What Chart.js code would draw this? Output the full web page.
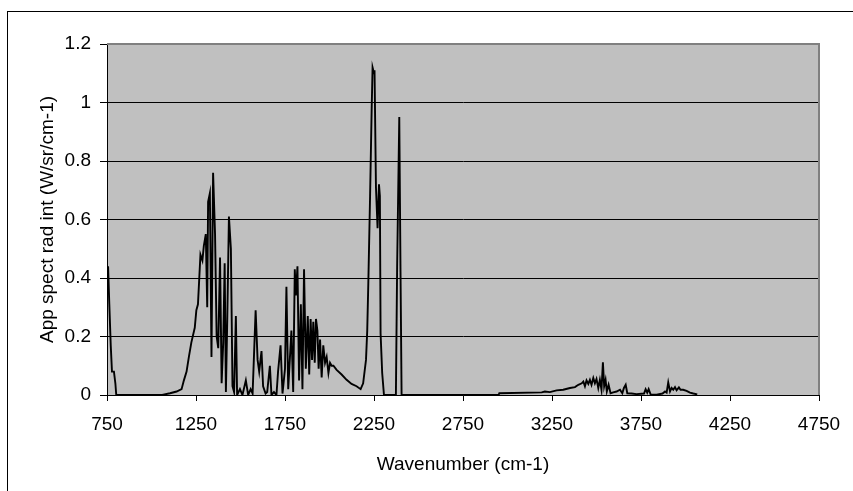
<!DOCTYPE html>
<html>
<head>
<meta charset="utf-8">
<script src="https://cdn.jsdelivr.net/npm/chart.js@4.4.0/dist/chart.umd.min.js"></script>
<style>
  body { margin: 0; background: #fff; overflow: hidden; }
  #marco { position: absolute; left: 7px; top: 11px; width: 900px; height: 600px; border: 1px solid #000; }
  #contenedor { position: absolute; left: 0; top: 0; width: 853px; height: 491px; }
</style>
</head>
<body>
<div id="marco"></div>
<div id="contenedor"><canvas id="myChart" width="853" height="491"></canvas></div>
<script>
// espectro: numero de onda (cm-1) y radiancia aparente (W/sr/cm-1)
var numerosDeOnda = [
  750, 756, 763, 771, 778, 789, 797, 802, 1060, 1104, 1141, 1169, 1182, 1197, 1210, 1224,
  1243, 1252, 1261, 1275, 1286, 1294, 1305, 1313, 1318, 1328, 1337, 1346, 1357, 1366, 1375,
  1385, 1394, 1403, 1411, 1418, 1426, 1435, 1446, 1455, 1464, 1474, 1481, 1497, 1511, 1530,
  1543, 1557, 1568, 1585, 1596, 1605, 1618, 1627, 1641, 1650, 1665, 1674, 1688, 1702, 1711,
  1725, 1736, 1750, 1758, 1768, 1777, 1786, 1796, 1805, 1811, 1820, 1829, 1839, 1848, 1857,
  1867, 1878, 1886, 1894, 1902, 1909, 1917, 1924, 1932, 1939, 1947, 1956, 1965, 1975, 1984,
  1994, 2003, 2012, 2022, 2040, 2068, 2096, 2124, 2152, 2175, 2189, 2205, 2212, 2218, 2228,
  2237, 2242, 2250, 2253, 2261, 2270, 2278, 2283, 2287, 2296, 2306, 2373, 2380, 2392, 2399,
  2405, 2950, 2954, 3192, 3210, 3238, 3276, 3313, 3351, 3379, 3398, 3417, 3426, 3435, 3444,
  3454, 3463, 3472, 3482, 3491, 3500, 3510, 3519, 3528, 3536, 3543, 3551, 3558, 3568, 3579,
  3594, 3613, 3632, 3645, 3654, 3664, 3673, 3697, 3725, 3767, 3776, 3785, 3793, 3804, 3838,
  3871, 3885, 3894, 3903, 3913, 3922, 3931, 3941, 3950, 3963, 3972, 3987, 4006, 4025, 4044,
  4066
]
var radiancia = [
  0.41, 0.44, 0.31, 0.17, 0.08, 0.08, 0.04, 0, 0, 0.006, 0.012, 0.02, 0.05, 0.08, 0.13, 0.18,
  0.23, 0.29, 0.31, 0.48, 0.46, 0.51, 0.55, 0.30, 0.66, 0.69, 0.13, 0.76, 0.55, 0.20, 0.16,
  0.47, 0.04, 0.18, 0.45, 0.01, 0.27, 0.61, 0.50, 0.03, 0.01, 0.27, 0, 0.02, 0, 0.05,
  0, 0.02, 0.005, 0.29, 0.12, 0.08, 0.15, 0.03, 0.005, 0.01, 0.10, 0, 0.01, 0, 0.08,
  0.17, 0.005, 0.09, 0.37, 0.02, 0.12, 0.22, 0.01, 0.43, 0.34, 0.44, 0.05, 0.31, 0.02, 0.43,
  0.09, 0.27, 0.07, 0.26, 0.12, 0.25, 0.11, 0.26, 0.22, 0.09, 0.19, 0.06, 0.17, 0.11, 0.13,
  0.075, 0.11, 0.10, 0.10, 0.086, 0.07, 0.052, 0.038, 0.03, 0.02, 0.04, 0.12, 0.22, 0.38, 0.68,
  0.98, 1.12, 1.10, 1.11, 0.71, 0.57, 0.72, 0.68, 0.21, 0.075, 0, 0, 0.44, 0.95, 0.42,
  0, 0, 0.006, 0.009, 0.012, 0.01, 0.016, 0.018, 0.024, 0.027, 0.035, 0.04, 0.046, 0.03, 0.05,
  0.038, 0.052, 0.035, 0.058, 0.04, 0.055, 0.024, 0.052, 0.018, 0.112, 0.03, 0.052, 0.012, 0.035, 0.006,
  0.009, 0.012, 0.018, 0.006, 0.024, 0.035, 0.006, 0.005, 0.003, 0.005, 0.02, 0.008, 0.02, 0.002, 0.001,
  0.005, 0.012, 0.008, 0.043, 0.012, 0.024, 0.018, 0.027, 0.016, 0.026, 0.018, 0.018, 0.014, 0.008, 0.005,
  0.002
]

var tituloX = "Wavenumber (cm-1)"
var tituloY = "App spect rad int (W/sr/cm-1)"

var puntos = []
for (i = 0; i < numerosDeOnda.length; i++) {
  puntos.push({x: numerosDeOnda[i], y: radiancia[i]})
}

// fondo gris del area de trazado y bordes superior/derecho
var fondoGris = {
  id: 'fondoGris',
  beforeDraw: function(chart) {
    var a = chart.chartArea
    var ctx = chart.ctx
    ctx.save()
    ctx.fillStyle = '#c0c0c0'
    ctx.fillRect(a.left, a.top, a.right - a.left, a.bottom - a.top)
    ctx.restore()
  },
  afterDraw: function(chart) {
    var a = chart.chartArea
    var ctx = chart.ctx
    ctx.save()
    ctx.strokeStyle = '#808080'
    ctx.lineWidth = 2
    ctx.beginPath()
    ctx.moveTo(a.left, a.top)
    ctx.lineTo(a.right, a.top)
    ctx.lineTo(a.right, a.bottom)
    ctx.stroke()
    ctx.restore()
  }
}

var fuente = {family: "'Liberation Sans', Arial, sans-serif", size: 19}

var chart = new Chart("myChart", {
  type: "line",
  data: {
    datasets: [{
      data: puntos,
      borderColor: "#000",
      borderWidth: 1.9,
      pointRadius: 0,
      tension: 0,
      fill: false
    }]
  },
  options: {
    responsive: false,
    animation: false,
    layout: { padding: { left: 0, top: 44, right: 34, bottom: 0 } },
    plugins: {
      legend: { display: false },
      tooltip: { enabled: false }
    },
    scales: {
      x: {
        type: 'linear',
        min: 750,
        max: 4750,
        afterFit: function(scale) { scale.height = 96 },
        ticks: { stepSize: 500, color: '#000', font: fuente, padding: 12, maxRotation: 0,
                 callback: function(v) { return String(v) } },
        grid: { drawOnChartArea: false, drawTicks: true, tickLength: 6, color: '#000' },
        border: { color: '#000', width: 1 },
        title: { display: true, text: tituloX, color: '#000', font: fuente, padding: { top: 0, bottom: 15 } }
      },
      y: {
        min: 0,
        max: 1.2,
        afterFit: function(scale) { scale.width = 107 },
        ticks: { stepSize: 0.2, color: '#000', font: fuente, padding: 9,
                 callback: function(v) { return String(Number(v.toFixed(1))) } },
        grid: {
          drawTicks: true,
          tickLength: 7,
          color: function(c) { return c.tick && c.tick.value > 1.19 ? '#808080' : '#000' },
          tickColor: '#000'
        },
        border: { color: '#000', width: 1 },
        title: { display: true, text: tituloY, color: '#000', font: fuente, padding: { top: 36, bottom: 0 } }
      }
    }
  },
  plugins: [fondoGris]
});
</script>
</body>
</html>
